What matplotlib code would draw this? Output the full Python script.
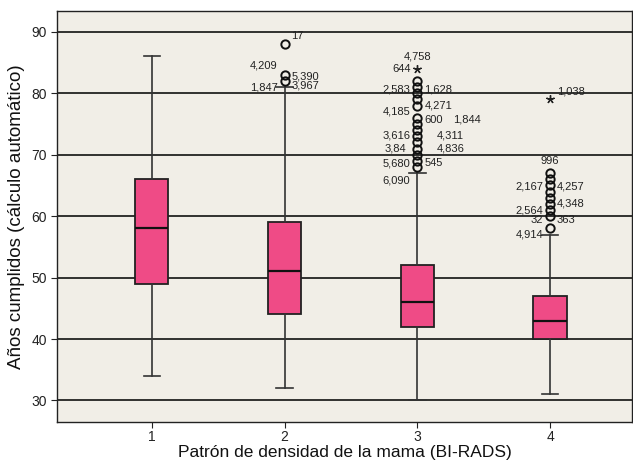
import matplotlib
matplotlib.use("Agg")
import matplotlib.pyplot as plt

plt.rcParams['font.family'] = ['Liberation Sans', 'DejaVu Sans']

categories = ["1", "2", "3", "4"]
whislo = [34, 32, 30, 31]
q1 = [49, 44, 42, 40]
med = [58, 51, 46, 43]
q3 = [66, 59, 52, 47]
whishi = [86, 81, 67, 57]
outliers = [
    [],
    [82, 83, 88],
    [68, 69, 70, 71, 72, 73, 74, 75, 76, 78, 79, 80, 81, 82],
    [58, 60, 61, 62, 63, 64, 65, 66, 67],
]
extremes = [[], [], [84], [79]]

# labels: (group index, value, text, side)
point_labels = [
    (1, 88, "17", "r_up"),
    (1, 83, "4,209", "l_up"),
    (1, 82.8, "5,390", "r"),
    (1, 81, "1,847", "l"),
    (1, 81.2, "3,967", "r"),
    (2, 84, "4,758", "up"),
    (2, 84, "644", "l"),
    (2, 80.6, "2,583", "l"),
    (2, 80.6, "1,628", "r"),
    (2, 78, "4,271", "r"),
    (2, 77, "4,185", "l"),
    (2, 75.7, "600", "r"),
    (2, 75.7, "1,844", "rr"),
    (2, 73.2, "3,616", "l"),
    (2, 73.2, "4,311", "rr2"),
    (2, 71.0, "3,84", "l2"),
    (2, 71.0, "4,836", "rr2"),
    (2, 68.5, "5,680", "l"),
    (2, 68.7, "545", "r"),
    (2, 65.8, "6,090", "l"),
    (3, 79, "1,038", "r_up"),
    (3, 67, "996", "up"),
    (3, 64.8, "2,167", "l"),
    (3, 64.8, "4,257", "r"),
    (3, 60.9, "2,564", "l"),
    (3, 62.0, "4,348", "r"),
    (3, 59.3, "32", "l"),
    (3, 59.3, "363", "r"),
    (3, 57.0, "4,914", "l"),
]

fig = plt.figure(figsize=(6.33, 4.65), dpi=100)
ax = fig.add_axes([0.090, 0.0925, 0.909, 0.884])
ax.set_facecolor('#F1EEE7')

stats = []
for i in range(len(categories)):
    stats.append(dict(med=med[i], q1=q1[i], q3=q3[i], whislo=whislo[i],
                      whishi=whishi[i], fliers=outliers[i], label=categories[i]))

pos = list(range(1, len(categories) + 1))
ax.bxp(stats, positions=pos, widths=0.25, patch_artist=True,
       boxprops=dict(facecolor='#EF4B86', edgecolor='#222222', linewidth=1.3),
       medianprops=dict(color='#111111', linewidth=1.6),
       whiskerprops=dict(color='#333333', linewidth=1.2),
       capprops=dict(color='#333333', linewidth=1.2),
       capwidths=0.125,
       flierprops=dict(marker='o', markerfacecolor='none', markeredgecolor='#111111',
                       markersize=6, markeredgewidth=1.4),
       zorder=3)

for i, ex in enumerate(extremes):
    if ex:
        ax.plot([pos[i]] * len(ex), ex, linestyle='none', marker=(5, 2, 0),
                markersize=6, color='#222222', markeredgewidth=1.0, zorder=4)

offsets = {
    "r": (5, 0, 'left', 'center'),
    "rr": (26, 0, 'left', 'center'),
    "rr2": (14, 0, 'left', 'center'),
    "l": (-5, 0, 'right', 'center'),
    "l2": (-8, 0, 'right', 'center'),
    "l_up": (-5, 7, 'right', 'center'),
    "up": (0, 9, 'center', 'center'),
    "r_up": (5, 6, 'left', 'center'),
}
for gi, val, txt, side in point_labels:
    dx, dy, ha, va = offsets[side]
    ax.annotate(txt, (pos[gi], val), xytext=(dx, dy), textcoords='offset points',
                ha=ha, va=va, fontsize=8, color='#222222', zorder=5)

ax.set_ylim(26.5, 93.4)
ax.set_xlim(0.285, 4.62)
ax.set_yticks([30, 40, 50, 60, 70, 80, 90])
ax.set_xticks(pos)
ax.set_xticklabels(categories)
ax.grid(axis='y', color='#111111', linewidth=1.2, zorder=0)
ax.set_axisbelow(True)
ax.tick_params(axis='y', labelsize=10, colors='#222222', length=4, pad=3)
ax.tick_params(axis='x', labelsize=10, colors='#222222', length=4, pad=1.5)
for s in ax.spines.values():
    s.set_color('#222222')
    s.set_linewidth(1.0)

ax.set_ylabel("Años cumplidos (cálculo automático)", fontsize=13.5, color='#111111', labelpad=5)
ax.set_xlabel("Patrón de densidad de la mama (BI-RADS)", fontsize=12.5, color='#111111', labelpad=1)

fig.savefig("out.png", dpi=100)
